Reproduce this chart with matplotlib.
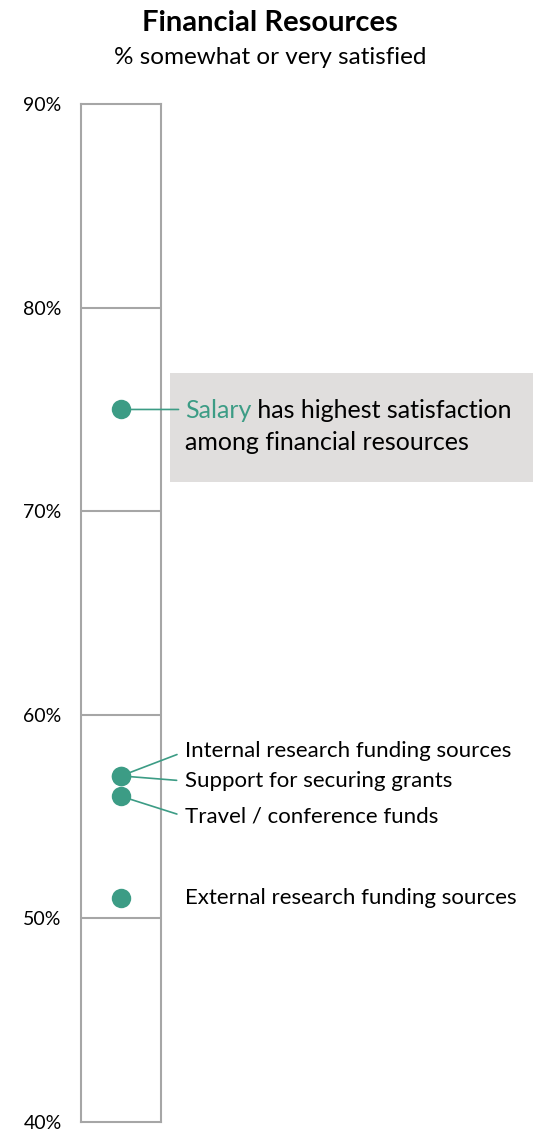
import matplotlib.pyplot as plt
from matplotlib.patches import Rectangle

plt.rcParams['font.family'] = ['Lato', 'DejaVu Sans']

# satisfaction by financial resource (% somewhat or very satisfied)
items = ['Salary', 'Internal research funding sources', 'Support for securing grants',
         'Travel / conference funds', 'External research funding sources']
values = [75, 57, 57, 56, 51]
label_y = [None, 58.2, 56.75, 55.0, 50.98]
ticks = [40, 50, 60, 70, 80, 90]

teal = '#3C9C85'
grey = '#A6A6A6'

fig = plt.figure(figsize=(5.33, 11.31), dpi=100)
ax = fig.add_axes([0.152, 0.00796, 0.150, 0.900])

ax.set_xlim(0, 1)
ax.set_ylim(40, 90)
ax.set_yticks(ticks)
ax.set_yticklabels([f'{t}%' for t in ticks], fontsize=14)
ax.tick_params(axis='y', length=0, pad=14)
ax.set_xticks([])
for t in ticks[1:-1]:
    ax.axhline(t, color=grey, lw=1.5, zorder=1)
for s in ax.spines.values():
    s.set_color(grey)
    s.set_linewidth(1.5)

# callout box behind the salary note
ax.add_patch(Rectangle((0.319, 0.5738), 0.681, 0.0964, transform=fig.transFigure,
                       facecolor='#E0DEDD', edgecolor='none', zorder=0, clip_on=False))

alphas = [1, 0.75, 1, 1, 1]
for v, a in zip(values, alphas):
    ax.plot(0.5, v, 'o', color=teal, ms=14, alpha=a, mec='none', zorder=3, clip_on=False)

# leader lines + labels for the lower cluster
for name, v, ly in zip(items[1:], values[1:], label_y[1:]):
    line = name != 'External research funding sources'
    ax.annotate(name, xy=(0.5, v), xytext=(1.3, ly),
                textcoords=('axes fraction', 'data'),
                ha='left', va='center', fontsize=16,
                arrowprops=dict(arrowstyle='-', color=teal, lw=1.2, relpos=(0, 0.5),
                                shrinkA=4, shrinkB=6) if line else None,
                annotation_clip=False)

# salary note: coloured keyword followed by black text
ax.annotate('', xy=(0.5, values[0]), xytext=(1.22, values[0]),
            textcoords=('axes fraction', 'data'),
            arrowprops=dict(arrowstyle='-', color=teal, lw=1.2, shrinkA=0, shrinkB=6),
            annotation_clip=False)
t1 = ax.text(1.3, values[0] - 0.05, 'Salary', color=teal, fontsize=18, ha='left', va='center',
             transform=ax.get_yaxis_transform(), clip_on=False, zorder=5)
fig.canvas.draw()
bb = t1.get_window_extent()
x_end = ax.transAxes.inverted().transform((bb.x1, bb.y0))[0]
ax.text(x_end, values[0] - 0.05, ' has highest satisfaction', fontsize=18, ha='left', va='center',
        transform=ax.get_yaxis_transform(), clip_on=False, zorder=5)
ax.text(1.3, 73.4, 'among financial resources', fontsize=18, ha='left', va='center',
        transform=ax.get_yaxis_transform(), clip_on=False, zorder=5)

fig.text(0.507, 0.980, 'Financial Resources', ha='center', va='center',
         fontsize=21, fontweight='bold')
fig.text(0.507, 0.949, '% somewhat or very satisfied', ha='center', va='center',
         fontsize=17.5)

fig.savefig('out.png', dpi=100)
